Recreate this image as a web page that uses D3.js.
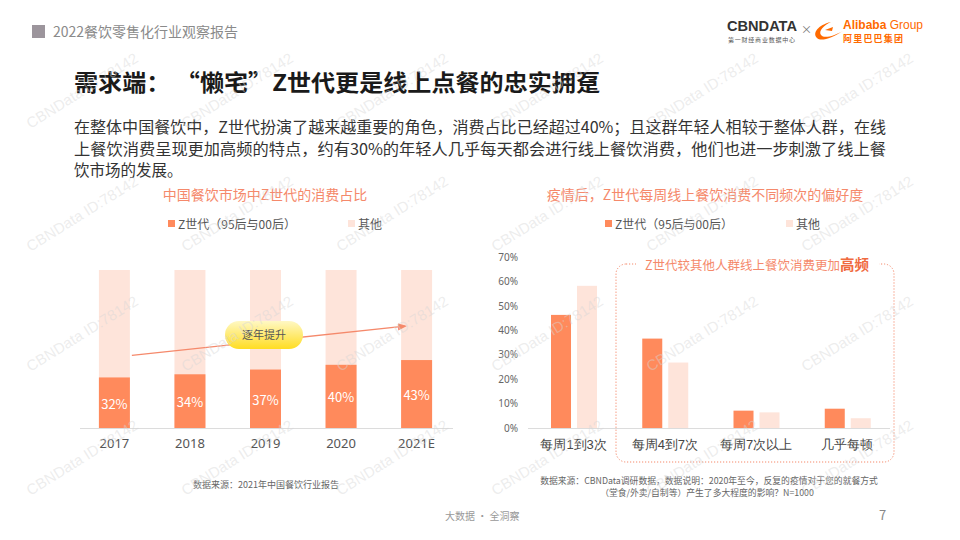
<!DOCTYPE html>
<html><head><meta charset="utf-8">
<script src="https://cdn.jsdelivr.net/npm/d3@7/dist/d3.min.js"></script>
<style>
html,body{margin:0;padding:0;background:#fff;}
svg{display:block;font-family:"Noto Sans CJK SC","Noto Sans",sans-serif;}
</style></head>
<body>
<svg id="c" width="960" height="540"></svg>
<script>
// ---------- data ----------
const years = ["2017","2018","2019","2020","2021E"];
const zShare = [32, 34, 37, 40, 43];
const freqCats = ["每周1到3次","每周4到7次","每周7次以上","几乎每顿"];
const freqZ = [46.3, 36.6, 7.1, 7.9];
const freqOther = [58.2, 26.8, 6.4, 4.0];
const yTicks = [0,10,20,30,40,50,60,70];
const seriesNames = ["Z世代（95后与00后）","其他"];
const bodyLines = [
  "在整体中国餐饮中，Z世代扮演了越来越重要的角色，消费占比已经超过40%；且这群年轻人相较于整体人群，在线",
  "上餐饮消费呈现更加高频的特点，约有30%的年轻人几乎每天都会进行线上餐饮消费，他们也进一步刺激了线上餐",
  "饮市场的发展。"
];

const ORANGE = "#FF8A5C", LIGHT = "#FEE4DA", SALMON = "#F5896B";
const svg = d3.select("#c");

// ---------- header ----------
svg.append("rect").attr("x",32).attr("y",25).attr("width",13).attr("height",13).attr("fill","#9c959c");
svg.append("text").attr("x",53).attr("y",37).attr("font-size",14).attr("fill","#8a8a8a").text("2022餐饮零售化行业观察报告");

// logos
svg.append("text").attr("x",727).attr("y",31).attr("font-size",15).attr("font-weight","bold")
  .attr("fill","#333").attr("textLength",70).attr("lengthAdjust","spacingAndGlyphs")
  .attr("font-family","Liberation Sans, Arial").text("CBNDATA");
svg.append("text").attr("x",728).attr("y",42).attr("font-size",6).attr("fill","#555")
  .attr("textLength",67).text("第一财经商业数据中心");
svg.append("text").attr("x",801).attr("y",34).attr("font-size",11).attr("fill","#777").text("×");
svg.append("path").attr("d","M831,22 C818,25 812,33 817,38 C821,42 832,38 843,31 C834,36 824,39 821,35 C818,31 824,25 831,22 Z")
  .attr("fill","#FF6A00");
svg.append("path").attr("d","M825,30 L833,27 L832,31 Z").attr("fill","#FF6A00");
svg.append("text").attr("x",843).attr("y",29).attr("font-size",12).attr("fill","#FF6A00")
  .attr("font-family","Liberation Sans, Arial")
  .html('<tspan font-weight="bold">Alibaba</tspan> Group');
svg.append("text").attr("x",843).attr("y",42).attr("font-size",9).attr("font-weight","bold").attr("fill","#FF6A00")
  .attr("textLength",60).text("阿里巴巴集团");

// title
svg.append("text").attr("x",74).attr("y",91).attr("font-size",23).attr("font-weight","bold").attr("fill","#1a1a1a")
  .attr("textLength",526).attr("lengthAdjust","spacingAndGlyphs")
  .text("需求端：  “懒宅”Z世代更是线上点餐的忠实拥趸");

// body
bodyLines.forEach((l,i)=>{
  const t = svg.append("text").attr("x",74).attr("y",133+i*21.5).attr("font-size",15.5).attr("fill","#333").text(l);
  if(i<2) t.attr("textLength",812).attr("lengthAdjust","spacingAndGlyphs");
});

// ---------- left chart ----------
const xL = d3.scaleBand().domain(years).range([77,454]).paddingInner(0.59).paddingOuter(0.29);
const yL = d3.scaleLinear().domain([0,100]).range([428,270]);

svg.append("text").attr("x",265).attr("y",200).attr("text-anchor","middle").attr("font-size",14).attr("fill",SALMON)
  .text("中国餐饮市场中Z世代的消费占比");
[[168,ORANGE,seriesNames[0]],[348,LIGHT,seriesNames[1]]].forEach(([x,c,t])=>{
  svg.append("rect").attr("x",x).attr("y",220).attr("width",7).attr("height",7).attr("fill",c);
  svg.append("text").attr("x",x+10).attr("y",228.5).attr("font-size",12).attr("fill","#555").text(t);
});

const gL = svg.append("g");
gL.selectAll(".bgbar").data(years).join("rect")
  .attr("x",d=>xL(d)).attr("width",xL.bandwidth())
  .attr("y",yL(100)).attr("height",yL(0)-yL(100)).attr("fill",LIGHT);
gL.selectAll(".zbar").data(years).join("rect")
  .attr("x",d=>xL(d)).attr("width",xL.bandwidth())
  .attr("y",(d,i)=>yL(zShare[i])).attr("height",(d,i)=>yL(0)-yL(zShare[i])).attr("fill",ORANGE);
gL.selectAll(".zlab").data(years).join("text")
  .attr("x",d=>xL(d)+xL.bandwidth()/2).attr("y",(d,i)=>(yL(zShare[i])+yL(0))/2+6)
  .attr("text-anchor","middle").attr("font-size",13).attr("fill","#fff").text((d,i)=>zShare[i]+"%");
const axL = svg.append("g").attr("transform","translate(0,428)")
  .call(d3.axisBottom(xL).tickSize(0).tickPadding(11));
axL.select(".domain").attr("stroke","#dcdcdc").attr("d","M80,0.5H453");
axL.selectAll("text").attr("font-size",13).attr("fill","#555").attr("font-family","Noto Sans, sans-serif");

// arrow annotation
const defs = svg.append("defs");
defs.append("marker").attr("id","ah").attr("viewBox","0 0 10 10").attr("refX",8).attr("refY",5)
  .attr("markerWidth",7).attr("markerHeight",7).attr("orient","auto")
  .append("path").attr("d","M0,1 L10,5 L0,9 Z").attr("fill",SALMON);
svg.append("line")
  .attr("x1",xL("2017")+xL.bandwidth()+2).attr("y1",yL(46))
  .attr("x2",xL("2021E")+4).attr("y2",yL(64.5))
  .attr("stroke",SALMON).attr("stroke-width",1.3).attr("marker-end","url(#ah)");
const grad = defs.append("linearGradient").attr("id","pill").attr("x1",0).attr("y1",0).attr("x2",0).attr("y2",1);
grad.append("stop").attr("offset","0%").attr("stop-color","#FFF8C4");
grad.append("stop").attr("offset","100%").attr("stop-color","#FFDD22");
svg.append("rect").attr("x",225).attr("y",321).attr("width",78).attr("height",28).attr("rx",14).attr("fill","url(#pill)");
svg.append("text").attr("x",264).attr("y",339).attr("text-anchor","middle").attr("font-size",11).attr("fill","#555").text("逐年提升");

// ---------- right chart ----------
const xR = d3.scaleBand().domain(freqCats).range([528,893]);
const xSub = d3.scaleBand().domain(["z","o"]).range([23,69]).paddingInner(0.23);
const yR = d3.scaleLinear().domain([0,70]).range([428,257]);

svg.append("text").attr("x",705).attr("y",200).attr("text-anchor","middle").attr("font-size",14).attr("fill",SALMON)
  .text("疫情后，Z世代每周线上餐饮消费不同频次的偏好度");
[[605,ORANGE,seriesNames[0]],[786,LIGHT,seriesNames[1]]].forEach(([x,c,t])=>{
  svg.append("rect").attr("x",x).attr("y",220).attr("width",7).attr("height",7).attr("fill",c);
  svg.append("text").attr("x",x+10).attr("y",228.5).attr("font-size",12).attr("fill","#555").text(t);
});

svg.append("rect").attr("x",616).attr("y",264).attr("width",278).attr("height",198).attr("rx",10)
  .attr("fill","none").attr("stroke",SALMON).attr("stroke-width",1).attr("stroke-dasharray","1.2,1.8");
svg.append("rect").attr("x",636).attr("y",258).attr("width",243).attr("height",12).attr("fill","#fff");
svg.append("text").attr("x",757).attr("y",270).attr("text-anchor","middle").attr("font-size",12.5).attr("fill",SALMON)
  .html('Z世代较其他人群线上餐饮消费更加<tspan font-weight="bold" font-size="14.5" fill="#F06A3F">高频</tspan>');

const axY = svg.append("g").attr("transform","translate(520,0)")
  .call(d3.axisLeft(yR).tickValues(yTicks).tickFormat(d=>d+"%").tickSize(0).tickPadding(2));
axY.select(".domain").remove();
axY.selectAll("text").attr("font-size",10).attr("fill","#666").attr("font-family","Noto Sans, sans-serif");

const gR = svg.append("g");
gR.selectAll(".rz").data(freqCats).join("rect")
  .attr("x",d=>xR(d)+xSub("z")).attr("width",xSub.bandwidth())
  .attr("y",(d,i)=>yR(freqZ[i])).attr("height",(d,i)=>yR(0)-yR(freqZ[i])).attr("fill",ORANGE);
gR.selectAll(".ro").data(freqCats).join("rect")
  .attr("x",d=>xR(d)+xSub("o")).attr("width",xSub.bandwidth())
  .attr("y",(d,i)=>yR(freqOther[i])).attr("height",(d,i)=>yR(0)-yR(freqOther[i])).attr("fill",LIGHT);

const axR = svg.append("g").attr("transform","translate(0,428)")
  .call(d3.axisBottom(xR).tickSize(0).tickPadding(12));
axR.select(".domain").attr("stroke","#dcdcdc").attr("d","M528,0.5H890");
axR.selectAll("text").attr("font-size",13).attr("fill","#444");

// ---------- footers ----------
svg.append("text").attr("x",193).attr("y",488).attr("font-size",9).attr("fill","#666").text("数据来源：2021年中国餐饮行业报告");
svg.append("text").attr("x",709).attr("y",483.5).attr("text-anchor","middle").attr("font-size",8.8).attr("fill","#666")
  .text("数据来源：CBNData调研数据，数据说明：2020年至今，反复的疫情对于您的就餐方式");
svg.append("text").attr("x",707).attr("y",496).attr("text-anchor","middle").attr("font-size",8.8).attr("fill","#666")
  .text("（堂食/外卖/自制等）产生了多大程度的影响？N=1000");
svg.append("text").attr("x",445).attr("y",520).attr("font-size",10).attr("fill","#999").text("大数据 · 全洞察");
svg.append("text").attr("x",879).attr("y",520).attr("font-size",13).attr("fill","#888").text("7");

// ---------- watermarks ----------
const wmX = [85,240,395,550,705,860], wmY = [95,218,338,462];
const wm = svg.append("g").attr("pointer-events","none");
wmY.forEach(y=>wmX.forEach(x=>{
  wm.append("text").attr("transform",`translate(${x},${y}) rotate(-32)`).attr("text-anchor","middle")
    .attr("font-size",15).attr("fill","#d6d6d6").attr("fill-opacity",0.45)
    .attr("font-family","Liberation Sans, Arial").text("CBNData ID:78142");
}));
</script>
</body></html>
